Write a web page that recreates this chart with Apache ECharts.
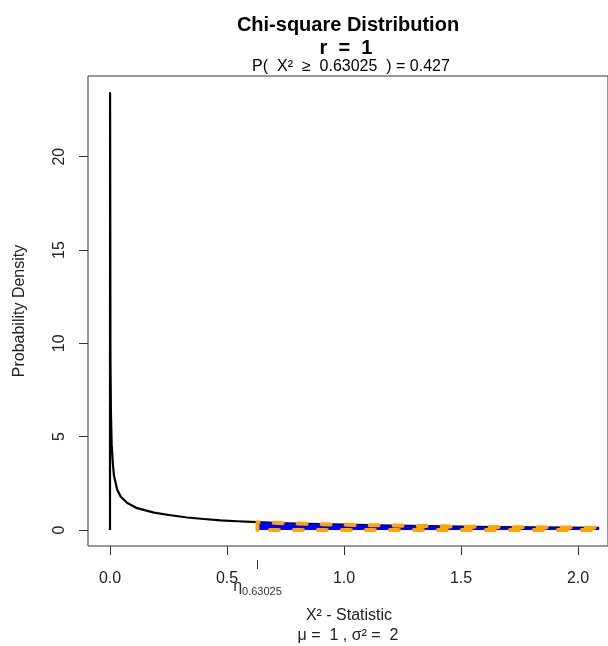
<!DOCTYPE html>
<html>
<head>
<meta charset="utf-8">
<script src="https://cdn.jsdelivr.net/npm/echarts@6/dist/echarts.min.js"></script>
<style>
html,body{margin:0;padding:0;background:#fff;}
#chart{width:608px;height:646px;}
</style>
</head>
<body>
<div id="chart"></div>
<script>
// Density curve (chi-square, r = 1)
const curveX = [0, 0.0003, 0.002, 0.004, 0.007, 0.012, 0.017, 0.031, 0.046, 0.074, 0.116, 0.188, 0.259, 0.33, 0.401, 0.472, 0.543, 0.63025, 0.75, 0.9, 1.05, 1.2, 1.35, 1.5, 1.65, 1.8, 1.95, 2.09];
const curveY = [0, 23.4, 9.0, 6.3, 4.6, 3.6, 2.9, 2.15, 1.78, 1.45, 1.17, 0.93, 0.79, 0.67, 0.59, 0.52, 0.47, 0.42, 0.36, 0.31, 0.27, 0.24, 0.21, 0.18, 0.16, 0.145, 0.13, 0.12];
const critical = 0.63025;
const critLabel = '0.63025';
const xTicks = [0, 0.5, 1.0, 1.5, 2.0];
const yTicks = [0, 5, 10, 15, 20];
const titleText = 'Chi-square Distribution';
const rText = 'r  =  1';
const probText = 'P(  X²  ≥  0.63025  ) = 0.427';
const xName = 'X² - Statistic';
const momentsText = 'μ =  1 , σ² =  2';
const yName = 'Probability Density';

const FONT = '"Liberation Sans", Arial, sans-serif';
const chart = echarts.init(document.getElementById('chart'), null, {renderer: 'canvas'});

const curveData = curveX.map((x, i) => [x, curveY[i]]);
const shade = [[critical, 0]];
curveX.forEach((x, i) => { if (x >= critical) shade.push([x, curveY[i]]); });
shade.push([curveX[curveX.length - 1], 0]);

const baseX = {
  type: 'value', min: -0.094, max: 2.128,
  splitLine: {show: false}
};

chart.setOption({
  backgroundColor: '#fff',
  animation: false,
  grid: {left: 88, top: 76, right: -1, bottom: 100, show: true, borderColor: '#333', borderWidth: 1, backgroundColor: 'transparent'},
  xAxis: [
    Object.assign({}, baseX, {
      position: 'bottom',
      axisLine: {show: false, onZero: false},
      axisTick: {show: true, customValues: xTicks, length: 9, lineStyle: {color: '#333', width: 1}},
      axisLabel: {customValues: xTicks, formatter: v => Number(v).toFixed(1), color: '#222', fontSize: 16, fontFamily: FONT, margin: 25}
    }),
    Object.assign({}, baseX, {
      position: 'bottom', offset: 14,
      axisLine: {show: false, onZero: false},
      axisTick: {show: true, customValues: [critical], length: 9, lineStyle: {color: '#333', width: 1}},
      axisLabel: {
        customValues: [critical],
        formatter: () => '{e|η}{s|' + critLabel + '}',
        margin: 16,
        rich: {
          e: {fontSize: 16, fontFamily: FONT, color: '#333'},
          s: {fontSize: 11, fontFamily: FONT, color: '#333', padding: [10, 0, 0, 0]}
        }
      }
    })
  ],
  yAxis: {
    type: 'value', min: -0.857, max: 24.32,
    splitLine: {show: false},
    axisLine: {show: false, onZero: false},
    axisTick: {show: true, customValues: yTicks, length: 9, lineStyle: {color: '#333', width: 1}},
    axisLabel: {customValues: yTicks, rotate: 90, color: '#222', fontSize: 16, fontFamily: FONT, margin: 20}
  },
  graphic: [
    {type: 'text', x: 348, y: 25, style: {text: titleText, fontSize: 20, fontWeight: 'bold', fontFamily: FONT, fill: '#000', align: 'center', verticalAlign: 'middle'}},
    {type: 'text', x: 346, y: 48, style: {text: rText, fontSize: 20, fontWeight: 'bold', fontFamily: FONT, fill: '#000', align: 'center', verticalAlign: 'middle'}},
    {type: 'text', x: 351, y: 67, style: {text: probText, fontSize: 16, fontFamily: FONT, fill: '#000', align: 'center', verticalAlign: 'middle'}},
    {type: 'text', x: 349, y: 616, style: {text: xName, fontSize: 16, fontFamily: FONT, fill: '#222', align: 'center', verticalAlign: 'middle'}},
    {type: 'text', x: 348, y: 636, style: {text: momentsText, fontSize: 16, fontFamily: FONT, fill: '#222', align: 'center', verticalAlign: 'middle'}},
    {type: 'text', x: 20, y: 311, rotation: Math.PI / 2, style: {text: yName, fontSize: 16, fontFamily: FONT, fill: '#222', align: 'center', verticalAlign: 'middle'}}
  ],
  series: [
    {
      type: 'line', data: curveData, showSymbol: false, symbol: 'none',
      lineStyle: {color: '#000', width: 2.2, join: 'round'}, z: 2, clip: true
    },
    {
      type: 'custom', z: 3, clip: true,
      data: [[critical, 0]],
      renderItem: function (params, api) {
        const pts = shade.map(p => api.coord(p));
        return {
          type: 'polygon',
          shape: {points: pts},
          style: {fill: '#0000FF', stroke: '#FFA500', lineWidth: 4, lineDash: [9, 15], lineCap: 'round', lineJoin: 'round'}
        };
      }
    }
  ]
});
</script>
</body>
</html>
